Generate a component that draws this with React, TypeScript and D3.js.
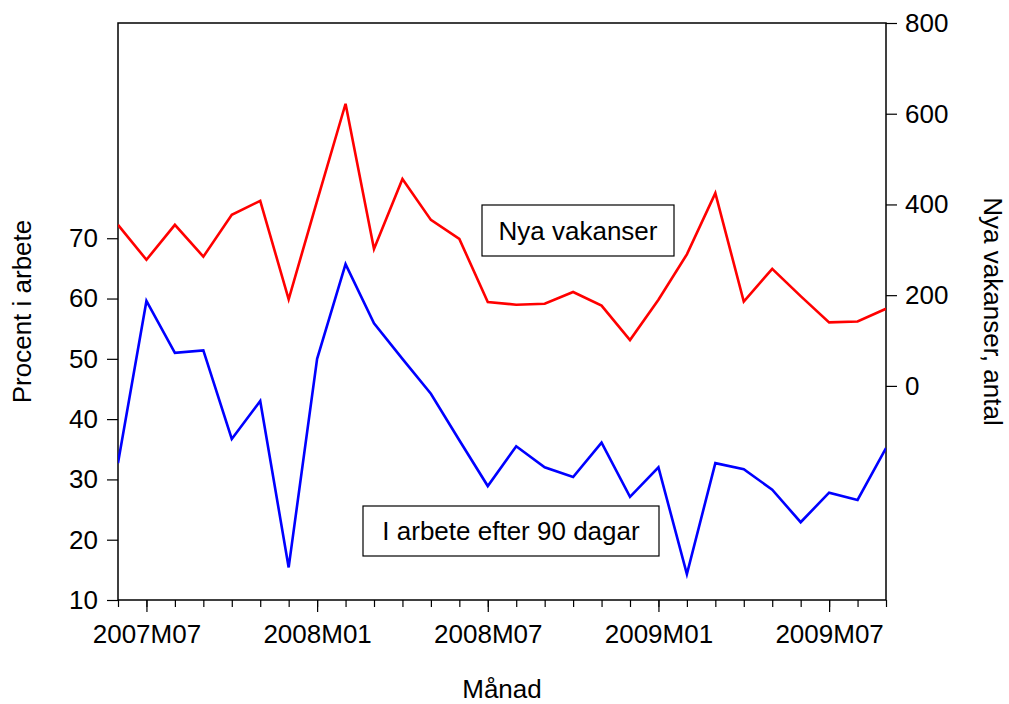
import React, { useEffect, useRef } from 'react';
import * as d3 from 'd3';

// Monthly observations, 2007M06 - 2009M09
const MONTHS: string[] = [
  '2007M06', '2007M07', '2007M08', '2007M09', '2007M10', '2007M11', '2007M12',
  '2008M01', '2008M02', '2008M03', '2008M04', '2008M05', '2008M06', '2008M07',
  '2008M08', '2008M09', '2008M10', '2008M11', '2008M12', '2009M01', '2009M02',
  '2009M03', '2009M04', '2009M05', '2009M06', '2009M07', '2009M08', '2009M09',
];

// Procent i arbete efter 90 dagar (left axis)
const I_ARBETE: number[] = [
  32.7, 59.6, 51.0, 51.4, 36.7, 43.0, 15.4, 50.0, 65.7, 55.9, 50.0, 44.2, 36.5, 28.9,
  35.5, 32.0, 30.4, 36.1, 27.1, 32.0, 14.3, 32.7, 31.7, 28.3, 22.9, 27.8, 26.6, 35.2,
];

// Nya vakanser, antal (right axis)
const VAKANSER: number[] = [
  355, 278, 355, 285, 377, 408, 191, 408, 622, 302, 456, 366, 324, 185,
  179, 181, 207, 177, 101, 190, 290, 425, 186, 258, 198, 140, 142, 170,
];

const LABELED_MONTHS = ['2007M07', '2008M01', '2008M07', '2009M01', '2009M07'];
const LEFT_TICKS = [10, 20, 30, 40, 50, 60, 70];
const RIGHT_TICKS = [0, 200, 400, 600, 800];

const FONT = '"Liberation Sans", Arial, sans-serif';

export default function App() {
  const svgRef = useRef<SVGSVGElement>(null);

  useEffect(() => {
    if (!svgRef.current) return;
    const W = 1009;
    const H = 704;
    const m = { left: 118, right: 886, top: 23, bottom: 600 };

    const svg = d3.select(svgRef.current);
    svg.selectAll('*').remove();
    svg.attr('width', W).attr('height', H).style('background', '#fff');

    const x = d3.scalePoint<string>().domain(MONTHS).range([m.left, m.right]).padding(0);
    const yL = d3.scaleLinear().domain([10, 105.7]).range([m.bottom, m.top]);
    const yR = d3.scaleLinear().domain([-472, 800]).range([m.bottom, m.top]);

    // frame
    svg.append('rect')
      .attr('x', m.left)
      .attr('y', m.top)
      .attr('width', m.right - m.left)
      .attr('height', m.bottom - m.top)
      .attr('fill', 'none')
      .attr('stroke', '#000')
      .attr('stroke-width', 1.5);

    const styleAxis = (g: any) => {
      g.select('.domain').remove();
      g.selectAll('.tick line').attr('stroke', '#000').attr('stroke-width', 1.2);
      g.selectAll('.tick text')
        .attr('fill', '#000')
        .style('font-family', FONT)
        .style('font-size', '26px');
    };

    // left axis
    svg.append('g')
      .attr('transform', `translate(${m.left},0)`)
      .call(d3.axisLeft(yL).tickValues(LEFT_TICKS).tickSize(11).tickPadding(9).tickFormat(d3.format('d')))
      .call(styleAxis);

    // right axis
    svg.append('g')
      .attr('transform', `translate(${m.right},0)`)
      .call(d3.axisRight(yR).tickValues(RIGHT_TICKS).tickSize(11).tickPadding(8).tickFormat(d3.format('d')))
      .call(styleAxis);

    // bottom axis: minor ticks every month, major at labeled months
    svg.append('g')
      .attr('transform', `translate(0,${m.bottom})`)
      .call(d3.axisBottom(x).tickValues(MONTHS).tickSize(7).tickFormat(() => ''))
      .call(styleAxis);

    svg.append('g')
      .attr('transform', `translate(0,${m.bottom})`)
      .call(d3.axisBottom(x).tickValues(LABELED_MONTHS).tickSize(12).tickPadding(13))
      .call(styleAxis);

    // series
    const lineL = d3.line<number>()
      .x((_, i) => x(MONTHS[i]) as number)
      .y(d => yL(d));
    const lineR = d3.line<number>()
      .x((_, i) => x(MONTHS[i]) as number)
      .y(d => yR(d));

    const clip = svg.append('clipPath').attr('id', 'plot-clip');
    clip.append('rect')
      .attr('x', m.left)
      .attr('y', m.top)
      .attr('width', m.right - m.left)
      .attr('height', m.bottom - m.top);

    svg.append('path')
      .datum(VAKANSER)
      .attr('d', lineR)
      .attr('fill', 'none')
      .attr('stroke', '#ff0000')
      .attr('stroke-width', 2.6)
      .attr('clip-path', 'url(#plot-clip)');

    svg.append('path')
      .datum(I_ARBETE)
      .attr('d', lineL)
      .attr('fill', 'none')
      .attr('stroke', '#0000ff')
      .attr('stroke-width', 2.6)
      .attr('clip-path', 'url(#plot-clip)');

    // text boxes
    const boxes = [
      { text: 'Nya vakanser', x: 482, y: 205, w: 192, h: 51 },
      { text: 'I arbete efter 90 dagar', x: 363, y: 506, w: 296, h: 50 },
    ];
    boxes.forEach(b => {
      svg.append('rect')
        .attr('x', b.x)
        .attr('y', b.y)
        .attr('width', b.w)
        .attr('height', b.h)
        .attr('fill', '#fff')
        .attr('stroke', '#000')
        .attr('stroke-width', 1.2);
      svg.append('text')
        .attr('x', b.x + b.w / 2)
        .attr('y', b.y + b.h / 2 + 9)
        .attr('text-anchor', 'middle')
        .style('font-family', FONT)
        .style('font-size', '26px')
        .text(b.text);
    });

    // axis titles
    svg.append('text')
      .attr('transform', `translate(31,${(m.top + m.bottom) / 2}) rotate(-90)`)
      .attr('text-anchor', 'middle')
      .style('font-family', FONT)
      .style('font-size', '26px')
      .text('Procent i arbete');

    svg.append('text')
      .attr('transform', `translate(984,${(m.top + m.bottom) / 2}) rotate(90)`)
      .attr('text-anchor', 'middle')
      .style('font-family', FONT)
      .style('font-size', '26px')
      .text('Nya vakanser, antal');

    svg.append('text')
      .attr('x', (m.left + m.right) / 2)
      .attr('y', 698)
      .attr('text-anchor', 'middle')
      .style('font-family', FONT)
      .style('font-size', '26px')
      .text('Månad');
  }, []);

  return (
    <svg
      ref={svgRef}
      style={{ position: 'absolute', left: 0, top: 0, display: 'block' }}
    />
  );
}
